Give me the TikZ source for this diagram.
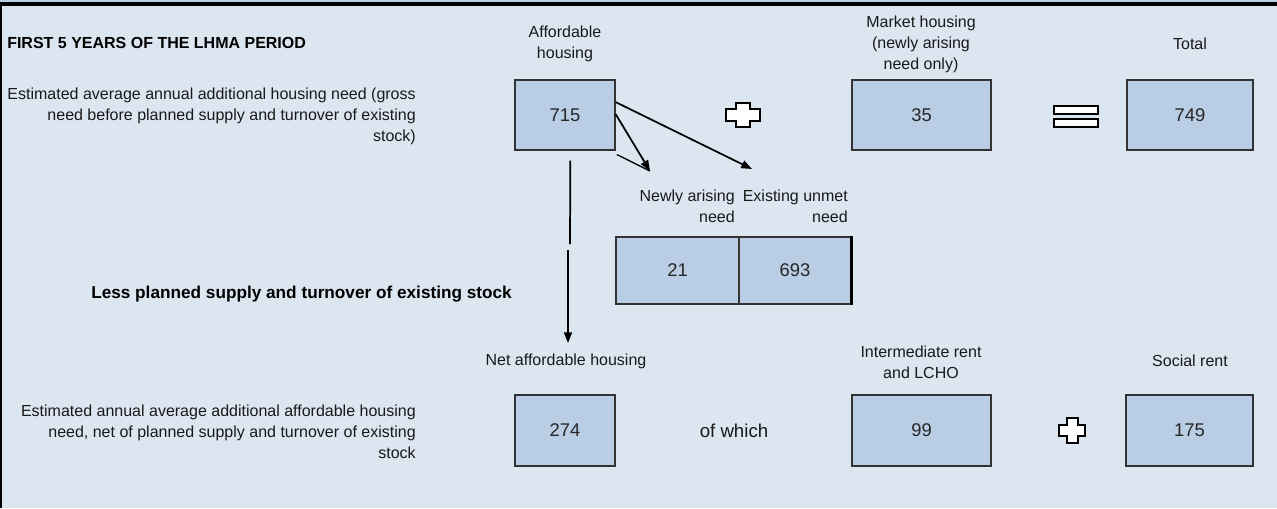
\documentclass[tikz,border=0pt]{standalone}
\usepackage{fontspec}
\setmainfont{Liberation Sans}
\usetikzlibrary{arrows.meta}
\definecolor{bg}{HTML}{DCE6F1}
\definecolor{boxfill}{HTML}{B9CDE5}
\definecolor{boxline}{HTML}{333333}
\definecolor{topband}{HTML}{B9CDE5}
\begin{document}
\begin{tikzpicture}[x=0.75pt,y=-0.75pt,
  numbox/.style={draw=boxline, fill=boxfill, line width=0.9pt, inner sep=0pt,
    minimum height=52.5pt, font=\fontsize{13.8}{15}\selectfont, text=black!85},
  lbl/.style={inner sep=0pt, font=\fontsize{12}{15.75}\selectfont, text=black!90},
  boldlbl/.style={inner sep=0pt, font=\fontsize{12}{14}\selectfont\bfseries},
  arr/.style={line width=1.3pt, -{Triangle[length=8pt,width=6pt]}},
  symb/.style={fill=white, draw=black, line width=1.4pt, line join=miter}]
\useasboundingbox (0,0) rectangle (1277,508);
\fill[bg] (0,0) rectangle (1277,508);
\fill[topband] (0,0) rectangle (1277,2.3);
\draw[line width=2.4pt] (0,4) -- (1277,4);
\draw[line width=1.8pt] (1,4) -- (1,508);

% top row boxes
\node[numbox, minimum width=75pt] (b715) at (565,115) {715};
\node[numbox, minimum width=104.25pt] (b35) at (921.5,115) {35};
\node[numbox, minimum width=94.5pt] (b749) at (1190,115) {749};
% split box
\node[numbox, minimum width=92.25pt, minimum height=50.25pt] (b21) at (677.5,270.5) {21};
\node[numbox, minimum width=84pt, minimum height=50.25pt] (b693) at (795,270.5) {693};
\draw[line width=1.8pt] (b693.north east) -- (b693.south east);
% bottom row boxes
\node[numbox, minimum width=75pt, minimum height=53.25pt] (b274) at (565,430.5) {274};
\node[numbox, minimum width=104.25pt, minimum height=53.25pt] (b99) at (921.5,430.5) {99};
\node[numbox, minimum width=95.25pt, minimum height=53.25pt] (b175) at (1189.5,430.5) {175};

% labels
\node[boldlbl, anchor=west] (title) at (7,43) {FIRST 5 YEARS OF THE LHMA PERIOD};
\node[lbl, align=center] (laff) at (565,44) {Affordable\\housing};
\node[lbl, align=center] (lmkt) at (921,44) {Market housing\\(newly arising\\need only)};
\node[lbl] (ltot) at (1190,44) {Total};
\node[lbl, align=right, anchor=east] (lgross) at (416,116) {Estimated average annual additional housing need (gross\\need before planned supply and turnover of existing\\stock)};
\node[lbl, align=right, anchor=east] (lnew) at (735,206.5) {Newly arising\\need};
\node[lbl, align=right, anchor=east] (lexist) at (848,206.5) {Existing unmet\\need};
\node[boldlbl, font=\fontsize{12.9}{14}\selectfont\bfseries, anchor=west] (lless) at (91,294) {Less planned supply and turnover of existing stock};
\node[lbl] (lnet) at (566,361) {Net affordable housing};
\node[lbl, align=center] (lint) at (921,362.5) {Intermediate rent\\and LCHO};
\node[lbl] (lsoc) at (1190,361) {Social rent};
\node[lbl, align=right, anchor=east] (lnetneed) at (416,432) {Estimated annual average additional affordable housing\\need, net of planned supply and turnover of existing\\stock};
\node[lbl, font=\fontsize{14}{16}\selectfont] (lwhich) at (734,431) {of which};

% arrows
\coordinate (tipA) at (650,171);
\coordinate (tipB) at (752,169);
\coordinate (tipC) at (568,343);
\draw[arr] ([yshift=-17pt]b715.north east) -- (tipB);
\draw[arr] ([yshift=-26pt]b715.north east) -- (tipA);
\draw[line width=1pt] ([xshift=1pt,yshift=-3pt]b715.south east) -- (tipA);
\draw[line width=1.3pt] ([xshift=4pt,yshift=-7.5pt]b715.south) -- (570,244);
\draw[arr] (568,250) -- (tipC);

% plus and equals symbols
\draw[symb] (736,103) -- (750,103) -- (750,109) -- (760,109) -- (760,121) -- (750,121) -- (750,127) -- (736,127) -- (736,121) -- (726,121) -- (726,109) -- (736,109) -- cycle;
\draw[symb] (1067,418) -- (1078,418) -- (1078,425) -- (1085,425) -- (1085,436) -- (1078,436) -- (1078,443) -- (1067,443) -- (1067,436) -- (1059,436) -- (1059,425) -- (1067,425) -- cycle;
\draw[symb] (1054,106) rectangle (1098,114);
\draw[symb] (1054,119) rectangle (1098,127);
\end{tikzpicture}
\end{document}
